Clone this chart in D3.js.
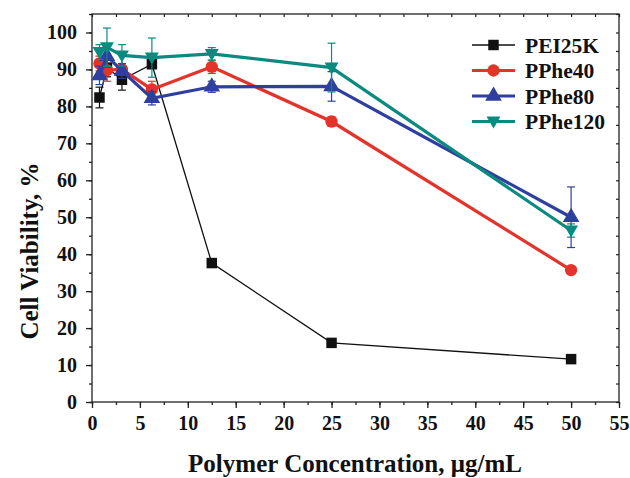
<!DOCTYPE html>
<html>
<head>
<meta charset="utf-8">
<script src="https://cdn.jsdelivr.net/npm/d3@7"></script>
<style>
  body { margin: 0; background: #fff; }
  text { font-family: "Liberation Serif", "Times New Roman", serif; font-weight: bold; fill: #111; }
</style>
</head>
<body>
<svg id="chart" width="630" height="478"></svg>
<script>
// concentrations (ug/mL)
var conc = [0.78, 1.56, 3.125, 6.25, 12.5, 25, 50];

var names = ['PEI25K', 'PPhe40', 'PPhe80', 'PPhe120'];
var colors = ['#111111', '#e3332a', '#2f3f9f', '#0b8a80'];
var shapes = ['square', 'circle', 'triangle', 'triangleDown'];

var pei25k = [82.4, 90.5, 87.2, 91.4, 37.6, 16.0, 11.6];
var pei25kErr = [2.8, 2.5, 2.8, 1.0, 0.8, 0.8, 0.8];
var pphe40 = [91.6, 89.8, 90.0, 84.6, 90.7, 75.9, 35.7];
var pphe40Err = [2.0, 3.0, 1.5, 2.2, 1.8, 1.3, 0.8];
var pphe80 = [88.4, 93.6, 89.6, 82.2, 85.3, 85.4, 50.0];
var pphe80Err = [2.5, 3.0, 2.0, 1.8, 1.5, 4.0, 8.2];
var pphe120 = [94.7, 96.0, 93.8, 93.2, 94.2, 90.5, 46.4];
var pphe120Err = [2.0, 5.2, 2.9, 5.3, 1.7, 6.6, 1.8];

var xTicks = [0, 5, 10, 15, 20, 25, 30, 35, 40, 45, 50, 55];
var yTicks = [0, 10, 20, 30, 40, 50, 60, 70, 80, 90, 100];

var seriesVals = [pei25k, pphe40, pphe80, pphe120];
var seriesErr = [pei25kErr, pphe40Err, pphe80Err, pphe120Err];
var lineW = [1.3, 3.2, 3.2, 3.2];

var svg = d3.select('#chart');
var pLeft = 92, pRight = 619, pTop = 14, pBottom = 402;

var x = d3.scaleLinear().domain([0, 55]).range([pLeft, pRight]);
var y = d3.scaleLinear().domain([0, 105]).range([pBottom, pTop]);

// frame
svg.append('rect')
	.attr('x', pLeft).attr('y', pTop)
	.attr('width', pRight - pLeft).attr('height', pBottom - pTop)
	.style('fill', 'none').style('stroke', '#222').style('stroke-width', 1.3);

var minorX = d3.range(0, 55.01, 2.5);
var minorY = d3.range(0, 105.01, 5);

// bottom axis
var gx = svg.append('g').attr('transform', 'translate(0,' + pBottom + ')');
gx.append('g').call(d3.axisBottom(x).tickValues(minorX).tickSize(3).tickFormat(''))
	.call(function(g) { g.select('.domain').remove(); });
gx.append('g').call(d3.axisBottom(x).tickValues(xTicks).tickSize(6).tickPadding(8).tickFormat(d3.format('d')))
	.call(function(g) {
		g.select('.domain').remove();
		g.selectAll('text').style('font-size', '20px').attr('fill', '#111');
	});
gx.selectAll('line').style('stroke', '#222').style('stroke-width', 1.3);

// left axis
var gy = svg.append('g').attr('transform', 'translate(' + pLeft + ',0)');
gy.append('g').call(d3.axisLeft(y).tickValues(minorY).tickSize(3).tickFormat(''))
	.call(function(g) { g.select('.domain').remove(); });
gy.append('g').call(d3.axisLeft(y).tickValues(yTicks).tickSize(6).tickPadding(9).tickFormat(d3.format('d')))
	.call(function(g) {
		g.select('.domain').remove();
		g.selectAll('text').style('font-size', '20px').attr('fill', '#111');
	});
gy.selectAll('line').style('stroke', '#222').style('stroke-width', 1.3);

// top & right inner ticks
svg.append('g').attr('transform', 'translate(0,' + pTop + ')')
	.call(d3.axisBottom(x).tickValues(minorX).tickSize(3).tickFormat(''))
	.call(function(g) { g.select('.domain').remove(); g.selectAll('line').style('stroke', '#222').style('stroke-width', 1.2); });
svg.append('g').attr('transform', 'translate(' + pRight + ',0)')
	.call(d3.axisLeft(y).tickValues(minorY).tickSize(3).tickFormat(''))
	.call(function(g) { g.select('.domain').remove(); g.selectAll('line').style('stroke', '#222').style('stroke-width', 1.2); });

// axis titles
svg.append('text')
	.attr('x', 355).attr('y', 472)
	.attr('text-anchor', 'middle')
	.style('font-size', '25px')
	.text('Polymer Concentration, \u03bcg/mL');
svg.append('text')
	.attr('transform', 'translate(38,' + 251 + ') rotate(-90)')
	.attr('text-anchor', 'middle')
	.style('font-size', '25px')
	.text('Cell Viability, %');

function markerPath(shape) {
	if (shape == 'square') return d3.symbol().type(d3.symbolSquare).size(110)();
	if (shape == 'circle') return d3.symbol().type(d3.symbolCircle).size(120)();
	if (shape == 'triangle') return d3.symbol().type(d3.symbolTriangle).size(120)();
	return 'M-7,-5L7,-5L0,7Z';
}

var line = d3.line().x(function(d) { return x(d[0]); }).y(function(d) { return y(d[1]); });

seriesVals.forEach(function(vals, i) {
	var g = svg.append('g').attr('class', 'series-' + names[i]);
	var pts = conc.map(function(c, j) { return [c, vals[j], seriesErr[i][j]]; });

	// error bars
	pts.forEach(function(p) {
		var eg = g.append('g').style('stroke', colors[i]).style('stroke-width', 1.2);
		eg.append('line').attr('x1', x(p[0])).attr('x2', x(p[0]))
			.attr('y1', y(p[1] - p[2])).attr('y2', y(p[1] + p[2]));
		eg.append('line').attr('x1', x(p[0]) - 4).attr('x2', x(p[0]) + 4)
			.attr('y1', y(p[1] + p[2])).attr('y2', y(p[1] + p[2]));
		eg.append('line').attr('x1', x(p[0]) - 4).attr('x2', x(p[0]) + 4)
			.attr('y1', y(p[1] - p[2])).attr('y2', y(p[1] - p[2]));
	});

	g.append('path')
		.attr('d', line(pts))
		.style('fill', 'none')
		.style('stroke', colors[i])
		.style('stroke-width', lineW[i]);

	g.selectAll('path.mk').data(pts).enter().append('path')
		.attr('class', 'mk')
		.attr('d', markerPath(shapes[i]))
		.attr('transform', function(d) { return 'translate(' + x(d[0]) + ',' + y(d[1]) + ')'; })
		.style('fill', colors[i]);
});

// legend
var lg = svg.append('g').attr('transform', 'translate(472,45)');
names.forEach(function(n, i) {
	var row = lg.append('g').attr('transform', 'translate(0,' + (i * 25.5) + ')');
	row.append('line').attr('x1', 0).attr('x2', 43).attr('y1', 0).attr('y2', 0)
		.style('stroke', colors[i]).style('stroke-width', lineW[i]);
	row.append('path').attr('d', markerPath(shapes[i]))
		.attr('transform', 'translate(21.5,0)')
		.style('fill', colors[i]);
	row.append('text').attr('x', 53).attr('y', 7.5)
		.style('font-size', '21.5px')
		.text(n);
});
</script>
</body>
</html>
